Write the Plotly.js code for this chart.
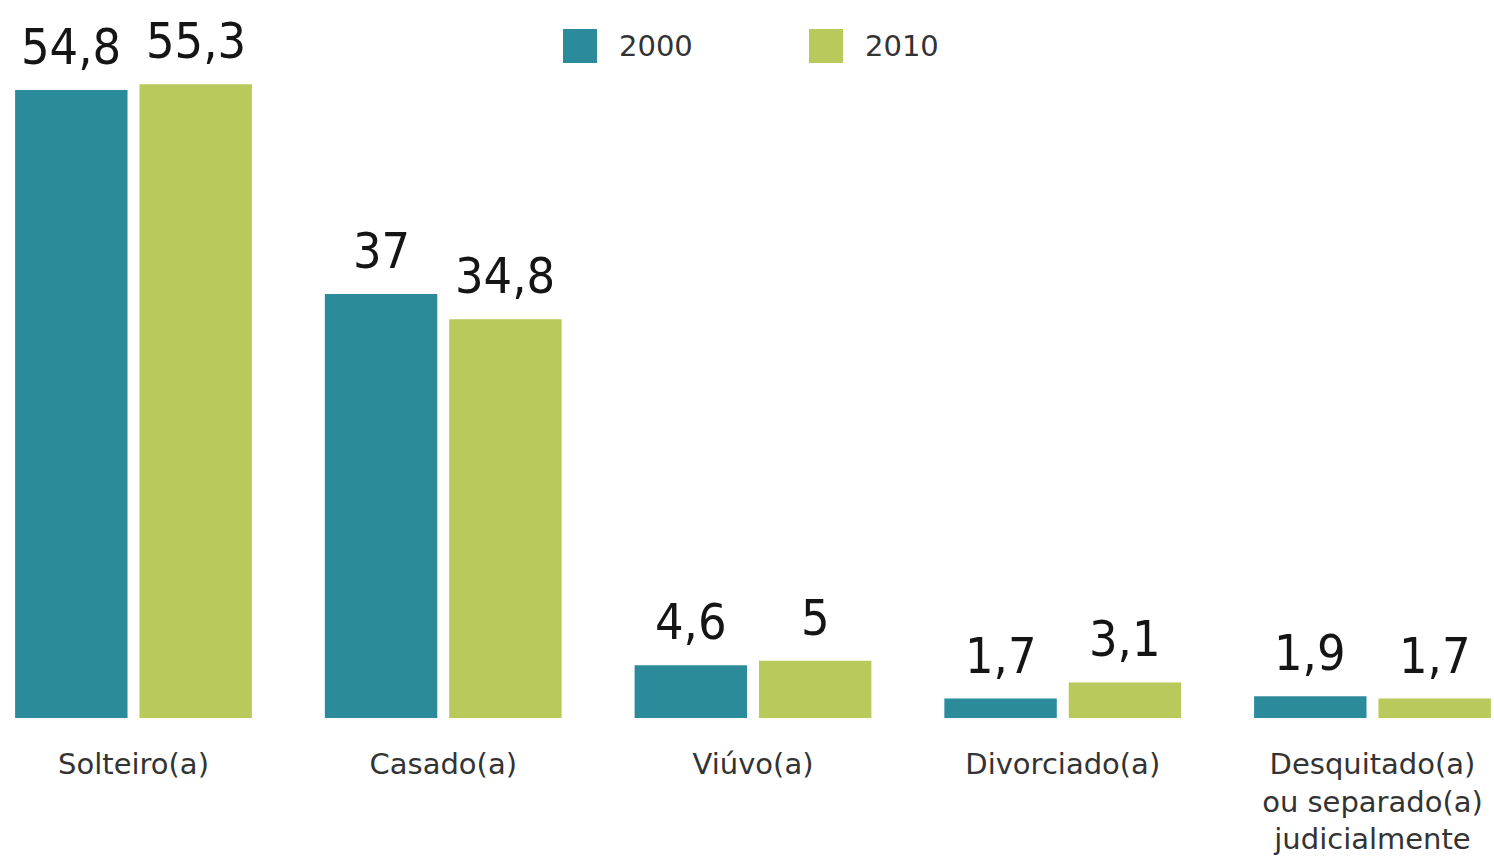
<!DOCTYPE html>
<html>
<head>
<meta charset="utf-8">
<script src="https://cdn.plot.ly/plotly-3.0.1.min.js"></script>
<style>
  html, body { margin: 0; padding: 0; background: #ffffff; }
  #chart { width: 1494px; height: 864px; }
</style>
</head>
<body>
<div id="chart"></div>
<script>
// ---- Data ----
const categories = [
  "Solteiro(a)",
  "Casado(a)",
  "Viúvo(a)",
  "Divorciado(a)",
  "Desquitado(a)<br>ou separado(a)<br>judicialmente"
];
const seriesNames = ["2000", "2010"];
const values2000 = [54.8, 37, 4.6, 1.7, 1.9];
const values2010 = [55.3, 34.8, 5, 3.1, 1.7];

// ---- Style ----
const colors = ["#2b8b9b", "#b9c95b"];
const W = 1494, H = 864;
const marginB = 146;
const plotH = H - marginB;
const bargap = 0.197;
const bargroupgap = 0.096;
const numFont = { family: "DejaVu Sans Condensed, Liberation Sans Narrow, sans-serif", size: 50, color: "#151515" };
const txtFont = { family: "DejaVu Sans, Verdana, sans-serif", size: 29, color: "#333333" };

const fmt = v => String(v).replace(".", ",");

const traces = [values2000, values2010].map((vals, i) => ({
  type: "bar",
  name: seriesNames[i],
  x: categories,
  y: vals,
  marker: { color: colors[i] },
  showlegend: false,
  hoverinfo: "x+y"
}));

// value labels above bars
const off = (1 - bargap) / 4;
const annotations = [];
[values2000, values2010].forEach((vals, s) => {
  vals.forEach((v, i) => {
    annotations.push({
      x: i + (s === 0 ? -off : off),
      y: v,
      xref: "x", yref: "y",
      text: fmt(v),
      showarrow: false,
      xanchor: "center",
      yanchor: "bottom",
      yshift: 12,
      font: numFont
    });
  });
});

// custom legend (large swatches)
const legendX = [563, 809];
const swatch = 34;
const legendCY = 46;
const shapes = [];
seriesNames.forEach((n, i) => {
  shapes.push({
    type: "rect", xref: "paper", yref: "paper",
    x0: legendX[i] / W, x1: (legendX[i] + swatch) / W,
    y0: (plotH - (legendCY + swatch / 2)) / plotH,
    y1: (plotH - (legendCY - swatch / 2)) / plotH,
    fillcolor: colors[i], line: { width: 0 }
  });
  annotations.push({
    xref: "paper", yref: "paper",
    x: (legendX[i] + swatch + 20) / W,
    y: (plotH - legendCY) / plotH,
    xanchor: "left", yanchor: "middle",
    text: n, showarrow: false,
    font: txtFont
  });
});

const unit = 309.75;
const start = -133.5 / unit;
const layout = {
  width: W, height: H,
  margin: { l: 0, r: 0, t: 0, b: marginB, pad: 0 },
  paper_bgcolor: "#ffffff",
  plot_bgcolor: "#ffffff",
  barmode: "group",
  bargap: bargap,
  bargroupgap: bargroupgap,
  showlegend: false,
  xaxis: {
    type: "category",
    range: [start, start + W / unit],
    showgrid: false, zeroline: false, showline: false,
    ticks: "", ticklabelstandoff: 26,
    tickfont: txtFont,
    fixedrange: true
  },
  yaxis: {
    range: [0, plotH / 11.46],
    showgrid: false, zeroline: false, showline: false,
    showticklabels: false, ticks: "",
    fixedrange: true
  },
  annotations: annotations,
  shapes: shapes
};

Plotly.newPlot("chart", traces, layout, { displayModeBar: false, staticPlot: true });
</script>
</body>
</html>
